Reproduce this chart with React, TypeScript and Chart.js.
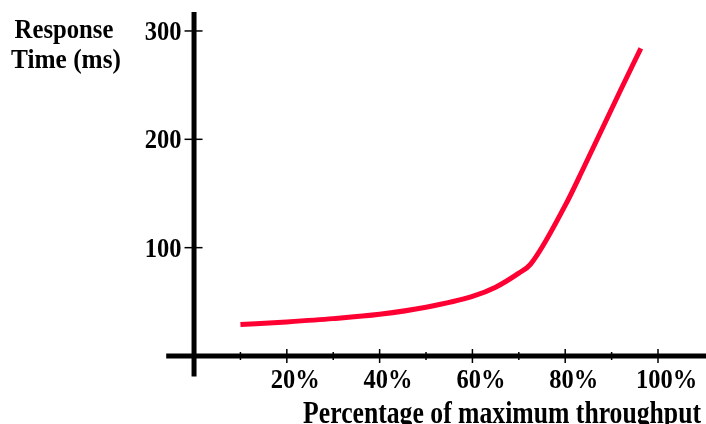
import React, { useEffect, useRef } from "react";
import { Chart, registerables } from "chart.js";

Chart.register(...registerables);

const throughputPct = [10, 20, 30, 40, 50, 60, 65, 70, 72.5, 80, 84, 88, 92, 96.3];
const responseMs = [29, 31.5, 34.5, 38.5, 45, 55, 63.5, 76.5, 84.5, 139, 174, 210, 246, 284];
const xMajorTicks = [20, 40, 60, 80, 100];
const xMinorTicks = [10, 30, 50, 70, 90];
const xTickLabels = ["20%", "40%", "60%", "80%", "100%"];
const yTicks = [100, 200, 300];
const yTickLabels = ["100", "200", "300"];
const xTitle = "Percentage of maximum throughput";
const yTitle = ["Response", "Time (ms)"];

const FONT = '"Liberation Serif", "Times New Roman", serif';

function drawText(ctx: any, text: string, x: number, y: number, size: number, sy: number, align: string) {
  ctx.save();
  ctx.translate(x, y);
  ctx.scale(1, sy);
  ctx.font = `bold ${size}px ${FONT}`;
  ctx.textAlign = align;
  ctx.textBaseline = "alphabetic";
  ctx.fillText(text, 0, 0);
  ctx.restore();
}

const axesPlugin = {
  id: "customAxes",
  beforeDatasetsDraw(chart: any) {
    const { ctx, chartArea, scales } = chart;
    const xs = scales.x;
    const ys = scales.y;
    const x0 = xs.getPixelForValue(0);
    const y0 = ys.getPixelForValue(0);
    ctx.save();
    ctx.strokeStyle = "#000";
    ctx.lineWidth = 5;
    ctx.beginPath();
    ctx.moveTo(chartArea.left, y0);
    ctx.lineTo(chart.width, y0);
    ctx.stroke();
    ctx.beginPath();
    ctx.moveTo(x0, chartArea.top);
    ctx.lineTo(x0, chartArea.bottom);
    ctx.stroke();
    ctx.lineWidth = 1.5;
    xMajorTicks.forEach((v) => {
      const px = xs.getPixelForValue(v);
      ctx.beginPath();
      ctx.moveTo(px, y0 - 7);
      ctx.lineTo(px, y0 + 7);
      ctx.stroke();
    });
    xMinorTicks.forEach((v) => {
      const px = xs.getPixelForValue(v);
      ctx.beginPath();
      ctx.moveTo(px, y0 - 4);
      ctx.lineTo(px, y0 + 4);
      ctx.stroke();
    });
    yTicks.forEach((v) => {
      const py = ys.getPixelForValue(v);
      ctx.beginPath();
      ctx.moveTo(x0 - 9.5, py);
      ctx.lineTo(x0 + 8.5, py);
      ctx.stroke();
    });
    ctx.fillStyle = "#000";
    xMajorTicks.forEach((v, i) => {
      drawText(ctx, xTickLabels[i], xs.getPixelForValue(v) + 8.5, 388, 24.5, 1.1, "center");
    });
    yTicks.forEach((v, i) => {
      drawText(ctx, yTickLabels[i], 181.5, ys.getPixelForValue(v) + 9, 24.5, 1.1, "right");
    });
    drawText(ctx, xTitle, 701, 422.5, 25.7, 1.2, "right");
    drawText(ctx, yTitle[0], 64, 38, 24.7, 1.12, "center");
    drawText(ctx, yTitle[1], 66, 68, 25.3, 1.12, "center");
    ctx.restore();
  },
};

export default function App() {
  const canvasRef = useRef<HTMLCanvasElement | null>(null);
  useEffect(() => {
    const canvas = canvasRef.current;
    if (!canvas) return;
    const chart = new Chart(canvas, {
      type: "line",
      data: {
        datasets: [
          {
            data: throughputPct.map((x, i) => ({ x, y: responseMs[i] })),
            borderColor: "#FF0033",
            borderWidth: 5,
            pointRadius: 0,
            cubicInterpolationMode: "monotone",
            borderCapStyle: "butt",
            fill: false,
          },
        ],
      },
      options: {
        animation: false,
        responsive: false,
        maintainAspectRatio: false,
        layout: { padding: { left: 166.2, right: 1.6, top: 12, bottom: 47.4 } },
        plugins: { legend: { display: false }, tooltip: { enabled: false } },
        scales: {
          x: { type: "linear", min: -6, max: 110, display: false },
          y: { type: "linear", min: -19, max: 317.5, display: false },
        },
      },
      plugins: [axesPlugin],
    });
    return () => chart.destroy();
  }, []);
  return (
    <div style={{ position: "fixed", left: 0, top: 0, width: 706, height: 424, background: "#fff" }}>
      <canvas ref={canvasRef} width={706} height={424} style={{ display: "block" }} />
    </div>
  );
}
